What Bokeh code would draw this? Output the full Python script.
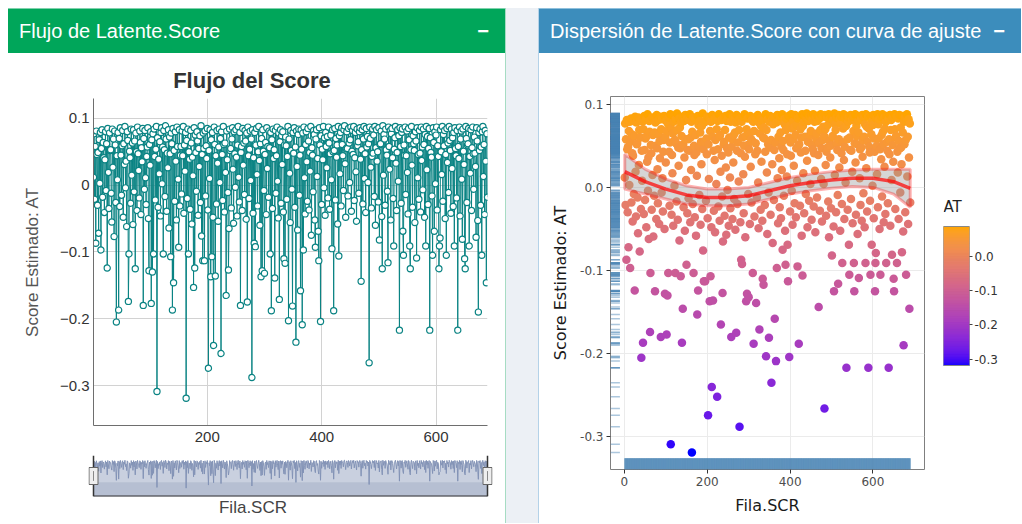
import numpy as np
from bokeh.plotting import figure
from bokeh.layouts import row, column
from bokeh.models import (Div, Range1d, FixedTicker, NumeralTickFormatter,
                          LinearColorMapper, ColumnDataSource)
from bokeh.core.properties import value
from bokeh.embed import file_html
from bokeh.resources import INLINE

# ------------------------------------------------------------------ data
latente_score = [
    0.012, 0.077, -0.021, 0.058, -0.087, 0.081, 0.046, -0.030, 0.049, -0.072, 0.068, 0.003, 0.079, -0.097, 0.055,
    0.083, -0.018, 0.064, 0.041, -0.041, 0.038, 0.080, -0.008, 0.062, -0.124, 0.085, 0.019, -0.035, 0.078, 0.052,
    0.053, -0.012, -0.055, 0.084, 0.027, 0.069, -0.077, 0.081, 0.060, -0.026, -0.205, 0.044, 0.008, 0.079, -0.187,
    0.070, -0.032, 0.086, 0.045, -0.015, 0.059, 0.082, -0.048, 0.062, 0.031, 0.088, -0.004, 0.036, -0.062, 0.080,
    0.067, -0.174, -0.103, 0.051, 0.041, -0.027, 0.084, 0.015, 0.063, -0.059, 0.083, -0.010, 0.066, -0.125, 0.078,
    0.050, -0.038, 0.087, 0.047, 0.022, -0.019, 0.081, 0.064, -0.044, 0.056, 0.035, 0.085, -0.180, 0.070, -0.006,
    0.082, 0.011, -0.029, 0.043, 0.057, 0.086, -0.050, -0.128, 0.061, 0.030, 0.080, -0.177, 0.068, -0.130, 0.077,
    -0.103, 0.084, 0.043, -0.022, 0.054, 0.088, -0.309, 0.071, -0.033, 0.039, 0.017, 0.065, -0.046, 0.079, 0.086,
    0.002, 0.057, -0.103, 0.082, 0.053, -0.017, 0.089, 0.069, -0.039, 0.048, 0.026, 0.083, -0.064, 0.072, 0.047,
    -0.107, 0.078, 0.062, -0.187, 0.085, -0.146, 0.052, -0.024, 0.080, 0.036, -0.052, 0.087, 0.058, 0.009, -0.093,
    0.083, -0.031, 0.045, 0.058, -0.013, 0.081, 0.044, 0.088, -0.042, 0.060, 0.021, 0.079, -0.319, 0.067, -0.020,
    0.084, -0.103, 0.050, 0.039, -0.036, 0.082, 0.063, -0.058, 0.042, 0.014, -0.153, 0.086, -0.124, 0.075, 0.049,
    -0.009, 0.080, 0.066, -0.045, 0.055, 0.028, 0.074, -0.026, 0.089, -0.076, 0.046, -0.113, 0.078, 0.055, -0.113,
    0.081, -0.016, 0.059, 0.040, 0.085, -0.037, -0.274, 0.052, 0.010, 0.083, -0.137, 0.068, -0.107, 0.079, -0.048,
    -0.240, 0.087, 0.061, -0.136, 0.044, -0.028, 0.082, 0.033, -0.054, 0.057, 0.084, 0.004, 0.070, -0.252, 0.080,
    0.046, -0.023, 0.088, 0.061, -0.040, 0.063, 0.019, -0.165, 0.081, 0.038, -0.011, -0.127, -0.065, 0.084, 0.052,
    0.055, -0.034, 0.069, 0.086, 0.024, -0.057, 0.080, 0.047, -0.003, 0.083, 0.042, -0.046, 0.060, 0.088, 0.012,
    -0.025, 0.079, -0.180, 0.049, 0.058, -0.038, 0.085, 0.030, 0.063, -0.014, 0.082, 0.066, -0.051, 0.078, -0.175,
    0.087, 0.044, -0.020, 0.054, 0.081, 0.007, 0.069, -0.288, 0.083, -0.042, 0.041, -0.087, 0.079, -0.092, 0.060,
    0.085, 0.016, -0.031, 0.050, 0.088, 0.037, -0.060, 0.062, -0.137, 0.070, -0.128, 0.083, 0.051, -0.008, -0.132,
    0.046, 0.064, -0.044, 0.086, 0.025, 0.058, -0.018, 0.081, 0.056, -0.103, 0.079, -0.188, 0.068, -0.035, 0.084,
    0.040, 0.053, -0.139, 0.082, -0.012, 0.044, 0.087, 0.006, -0.049, 0.078, -0.171, 0.065, 0.083, -0.027, 0.074,
    0.031, 0.080, -0.040, -0.110, 0.060, -0.117, 0.072, 0.059, -0.021, 0.043, 0.088, -0.203, 0.069, 0.018, -0.056,
    0.082, 0.052, -0.006, -0.181, 0.079, 0.048, 0.086, -0.033, 0.057, -0.235, 0.081, 0.028, -0.067, 0.076, 0.084,
    -0.015, 0.045, -0.158, 0.083, 0.054, -0.209, 0.078, -0.097, 0.087, 0.011, -0.043, 0.061, 0.080, 0.035, -0.024,
    0.085, 0.066, -0.037, 0.049, 0.021, 0.088, -0.075, 0.056, 0.045, -0.010, 0.082, 0.076, -0.052, -0.093, 0.069,
    0.083, 0.013, 0.040, -0.069, -0.113, 0.086, 0.060, -0.204, 0.074, -0.029, 0.054, 0.038, 0.088, -0.004, 0.071,
    -0.045, 0.079, 0.058, 0.026, 0.073, -0.019, 0.087, 0.063, -0.036, 0.047, 0.075, 0.008, -0.095, 0.083, 0.050,
    -0.188, 0.052, 0.085, -0.022, 0.070, 0.042, 0.060, -0.058, 0.088, -0.106, 0.074, 0.017, 0.079, -0.031, 0.086,
    0.061, 0.044, -0.008, 0.083, 0.089, 0.032, -0.048, 0.055, 0.080, 0.055, -0.016, 0.085, 0.063, 0.004, 0.068,
    0.087, -0.039, 0.051, 0.082, 0.046, 0.088, -0.023, 0.041, 0.079, 0.020, -0.054, 0.084, 0.059, 0.065, -0.012,
    0.080, 0.086, 0.039, -0.144, 0.053, 0.083, -0.028, 0.069, 0.088, 0.010, 0.047, -0.041, 0.085, 0.057, 0.073,
    0.004, 0.062, -0.266, 0.087, 0.070, 0.027, -0.034, 0.043, 0.084, 0.048, 0.075, -0.017, 0.088, -0.060, 0.056,
    0.083, 0.036, 0.050, -0.025, 0.086, -0.082, 0.061, 0.062, 0.081, -0.047, -0.125, 0.089, 0.015, 0.076, 0.069,
    -0.030, 0.084, 0.053, 0.045, -0.009, -0.116, 0.087, 0.058, 0.024, 0.082, -0.052, 0.077, 0.085, 0.041, -0.020,
    -0.091, 0.054, 0.071, 0.088, 0.033, -0.038, 0.049, 0.083, 0.006, 0.074, -0.217, 0.086, 0.058, -0.027, 0.079,
    0.084, -0.069, -0.105, 0.060, 0.045, 0.087, -0.014, 0.044, 0.081, 0.019, -0.043, 0.085, 0.068, -0.091, -0.125,
    0.053, 0.088, 0.030, -0.033, 0.074, 0.062, 0.052, -0.056, 0.080, 0.066, -0.109, 0.086, 0.011, 0.046, -0.021,
    0.082, 0.048, -0.040, 0.087, 0.037, 0.057, -0.007, 0.084, 0.061, -0.048, 0.076, -0.091, 0.088, 0.023, 0.073,
    -0.029, 0.055, 0.085, -0.217, 0.071, 0.049, 0.042, -0.016, -0.105, 0.086, 0.064, -0.069, 0.080, 0.002, 0.075,
    0.087, -0.037, 0.059, 0.043, -0.125, -0.091, -0.079, 0.083, 0.050, 0.016, 0.088, -0.024, 0.076, 0.059, 0.082,
    -0.050, 0.046, -0.105, 0.085, 0.034, 0.063, -0.011, 0.088, 0.067, 0.052, -0.042, 0.084, 0.025, 0.071, -0.032,
    0.079, -0.091, 0.086, 0.055, 0.044, -0.019, 0.082, -0.217, 0.058, 0.040, 0.087, -0.046, 0.069, 0.081, 0.009,
    -0.081, 0.084, 0.051, 0.031, -0.110, -0.125, 0.088, 0.070, -0.026, 0.060, 0.062, 0.085, -0.091, 0.043, 0.018,
    0.083, -0.038, 0.056, 0.087, 0.047, -0.006, 0.072, 0.048, 0.028, -0.078, 0.086, 0.066, -0.053, -0.190, 0.079,
    0.052, 0.084, -0.030, 0.057, -0.105, 0.080, 0.088, 0.013, 0.061, -0.044, 0.082, 0.036, -0.146, 0.077, -0.018,
]
fila_scr = list(range(1, len(latente_score) + 1))

# smooth (loess) curve
ajuste_x = [1, 50, 100, 150, 200, 250, 300, 350, 400, 450, 500, 550, 600, 650, 690]
ajuste_y = [0.019, 0.007, -0.002, -0.009, -0.012, -0.012, -0.010, -0.004, 0.002, 0.006, 0.009, 0.011, 0.011, 0.007, -0.001]
ajuste_se = [0.021, 0.015, 0.012, 0.011, 0.010, 0.010, 0.010, 0.010, 0.010, 0.010, 0.010, 0.010, 0.011, 0.015, 0.023]

flujo_x_ticks = [200, 400, 600]
flujo_y_ticks = [-0.3, -0.2, -0.1, 0, 0.1]
disp_x_ticks = [0, 200, 400, 600]
disp_y_ticks = [-0.3, -0.2, -0.1, 0.0, 0.1]
barra_ticks = [-0.3, -0.2, -0.1, 0.0]

titulo_izq = "Flujo de Latente.Score"
titulo_der = "Dispersión de Latente.Score con curva de ajuste"
titulo_flujo = "Flujo del Score"
eje_x = "Fila.SCR"
eje_y = "Score Estimado: AT"
leyenda = "AT"

# ------------------------------------------------------------------ helpers
ARIAL = "'Liberation Sans', Arial, Helvetica, sans-serif"
PLOTLY_FONT = "DejaVu Sans"


def _hex_to_lab(h):
    rgb = [int(h[i:i + 2], 16) / 255 for i in (1, 3, 5)]
    lin = [c / 12.92 if c <= 0.04045 else ((c + 0.055) / 1.055) ** 2.4 for c in rgb]
    r, g, b = lin
    X = 0.4124564 * r + 0.3575761 * g + 0.1804375 * b
    Y = 0.2126729 * r + 0.7151522 * g + 0.0721750 * b
    Z = 0.0193339 * r + 0.1191920 * g + 0.9503041 * b

    def f(t):
        return t ** (1 / 3) if t > (6 / 29) ** 3 else t / (3 * (6 / 29) ** 2) + 4 / 29
    fx, fy, fz = f(X / 0.95047), f(Y), f(Z / 1.08883)
    return 116 * fy - 16, 500 * (fx - fy), 200 * (fy - fz)


def _lab_to_hex(L, a, b):
    fy = (L + 16) / 116
    fx = fy + a / 500
    fz = fy - b / 200

    def finv(t):
        return t ** 3 if t > 6 / 29 else 3 * (6 / 29) ** 2 * (t - 4 / 29)
    X, Y, Z = 0.95047 * finv(fx), finv(fy), 1.08883 * finv(fz)
    r = 3.2404542 * X - 1.5371385 * Y - 0.4985314 * Z
    g = -0.9692660 * X + 1.8760108 * Y + 0.0415560 * Z
    bb = 0.0556434 * X - 0.2040259 * Y + 1.0572252 * Z

    def gam(c):
        c = min(max(c, 0.0), 1.0)
        return 12.92 * c if c <= 0.0031308 else 1.055 * c ** (1 / 2.4) - 0.055
    return "#%02x%02x%02x" % tuple(int(round(gam(c) * 255)) for c in (r, g, bb))


lo_lab = _hex_to_lab("#0000ff")
hi_lab = _hex_to_lab("#ffa500")
palette = [_lab_to_hex(*[lo_lab[k] + (hi_lab[k] - lo_lab[k]) * t for k in range(3)])
           for t in np.linspace(0, 1, 256)]

smin, smax = min(latente_score), max(latente_score)
span = smax - smin
mapper = LinearColorMapper(palette=palette, low=smin, high=smax)


def no_align(fig):
    if hasattr(fig, "frame_align"):
        try:
            fig.frame_align = False
        except Exception:
            pass


def header_div(text, bg, border, width):
    html = (f'<div style="box-sizing:border-box;width:{width}px;height:45px;background:{bg};'
            f'border-top:1px solid {border};color:#ffffff;font-family:{ARIAL};font-size:20px;'
            f'line-height:24px;padding:10px 16px 0 11px;">'
            f'<span>{text}</span><span style="float:right;font-weight:bold;">&minus;</span></div>')
    return Div(text=html, width=width, height=45, margin=0)


# ------------------------------------------------------------------ left: dygraph-like
LW = 497
src = ColumnDataSource(dict(x=fila_scr, y=latente_score))

title_div = Div(text=(f'<div style="box-sizing:border-box;width:{LW}px;height:45px;text-align:center;'
                      f'padding:15px 9px 0 0;font-family:{ARIAL};font-size:22px;font-weight:bold;'
                      f'color:#333333;line-height:26px;">{titulo_flujo}</div>'),
                width=LW, height=45, margin=0)

p1 = figure(width=LW, height=350, output_backend="svg", toolbar_location=None,
            x_range=Range1d(fila_scr[0], fila_scr[-1]),
            y_range=Range1d(smin - 0.1 * span, smax + 0.1 * span),
            min_border_left=85, min_border_right=18, min_border_top=0, min_border_bottom=23)
no_align(p1)
p1.outline_line_color = None
for g in (p1.xgrid, p1.ygrid):
    g.grid_line_color = "#d2d2d2"
    g.grid_line_width = 1
p1.xaxis.ticker = FixedTicker(ticks=flujo_x_ticks)
p1.yaxis.ticker = FixedTicker(ticks=flujo_y_ticks)
p1.yaxis.major_label_overrides = {0: "0"}
for ax in (p1.xaxis, p1.yaxis):
    ax.axis_line_color = "#6e6e6e"
    ax.axis_line_width = 1
    ax.major_tick_out = 0
    ax.major_tick_in = 0
    ax.minor_tick_line_color = None
    ax.major_tick_line_color = None
    ax.major_label_text_font = ARIAL
    ax.major_label_text_font_size = "15px"
    ax.major_label_text_color = "#333333"
p1.xaxis.major_label_standoff = 6
p1.yaxis.major_label_standoff = 4
p1.yaxis.axis_label = eje_y
p1.yaxis.axis_label_text_font = ARIAL
p1.yaxis.axis_label_text_font_size = "17px"
p1.yaxis.axis_label_text_font_style = "normal"
p1.yaxis.axis_label_text_color = "#555555"
p1.yaxis.axis_label_standoff = 15
p1.line("x", "y", source=src, line_color="#0a8383", line_width=1.0)
p1.scatter("x", "y", source=src, size=6.2, line_color="#0a8383", line_width=1.2, fill_color="white")

# range selector
px_per_unit = (LW - 85 - 18) / (fila_scr[-1] - fila_scr[0])
ext = 5 / px_per_unit
r_lo, r_hi = smin - 0.3 * span, smax + 0.17 * span
p3 = figure(width=LW, height=50, output_backend="svg", toolbar_location=None,
            x_range=Range1d(fila_scr[0] - ext, fila_scr[-1] + ext),
            y_range=Range1d(r_lo, r_hi),
            min_border_left=80, min_border_right=13, min_border_top=7, min_border_bottom=2)
no_align(p3)
p3.axis.visible = False
p3.grid.visible = False
p3.outline_line_color = None
p3.varea(x="x", y1=r_lo, y2="y", source=src, fill_color="#c9d0df")
p3.varea(x="x", y1=r_lo, y2=r_lo + 0.35 * (r_hi - r_lo), source=src, fill_color="#aab4ca", fill_alpha=0.6)
p3.line("x", "y", source=src, line_color="#8393b6", line_width=1)
p3.segment(x0=fila_scr[0], x1=fila_scr[-1], y0=r_lo, y1=r_lo, line_color="#333333", line_width=2)
p3.segment(x0=[fila_scr[0], fila_scr[-1]], x1=[fila_scr[0], fila_scr[-1]],
           y0=[r_lo, r_lo], y1=[r_hi, r_hi], line_color="#333333", line_width=1.5)
p3.rect(x=[fila_scr[0], fila_scr[-1]], y=[(r_lo + r_hi) / 2] * 2, width=9, height=17,
        width_units="screen", height_units="screen",
        fill_color="#eeeeee", line_color="#666666", line_width=1)
p3.segment(x0=[fila_scr[0], fila_scr[-1]], x1=[fila_scr[0], fila_scr[-1]],
           y0=[(r_lo + r_hi) / 2 - 0.12 * (r_hi - r_lo)] * 2,
           y1=[(r_lo + r_hi) / 2 + 0.12 * (r_hi - r_lo)] * 2,
           line_color="#888888", line_width=1)

xlab_div = Div(text=(f'<div style="box-sizing:border-box;width:{LW}px;height:25px;text-align:center;'
                     f'padding:0 7px 0 0;font-family:{ARIAL};font-size:17px;color:#444444;'
                     f'line-height:20px;">{eje_x}</div>'), width=LW, height=25, margin=0)

left_col = column(header_div(titulo_izq, "#00a65a", "#7fd1ac", LW), title_div, p1, p3, xlab_div,
                  spacing=0)

# ------------------------------------------------------------------ gap
gap = Div(text=('<div style="box-sizing:border-box;width:34px;height:515px;background:#ecf0f5;'
                'border-left:1px solid #a6dcc3;border-right:1px solid #b4d2e8;"></div>'),
          width=34, height=515, margin=0)

# ------------------------------------------------------------------ right: ggplotly-like
RW = 482
FIG_H = 470
B_TOP, B_BOT = 43, 54
xspan = fila_scr[-1] - fila_scr[0]
x0, x1 = fila_scr[0] - 0.05 * xspan, fila_scr[-1] + 0.05 * xspan
y0, y1 = smin - 0.05 * span, smax + 0.05 * span

p2 = figure(width=396, height=FIG_H, output_backend="svg", toolbar_location=None,
            x_range=Range1d(x0, x1), y_range=Range1d(y0, y1),
            min_border_left=71, min_border_right=11, min_border_top=B_TOP, min_border_bottom=B_BOT)
no_align(p2)
p2.outline_line_color = "#7f7f7f"
p2.outline_line_width = 1
for g in (p2.xgrid, p2.ygrid):
    g.grid_line_color = "#ebebeb"
    g.grid_line_width = 1
p2.xaxis.ticker = FixedTicker(ticks=disp_x_ticks)
p2.yaxis.ticker = FixedTicker(ticks=disp_y_ticks)
p2.yaxis.formatter = NumeralTickFormatter(format="0.0")
for ax in (p2.xaxis, p2.yaxis):
    ax.axis_line_color = None
    ax.major_tick_out = 4
    ax.major_tick_in = 0
    ax.major_tick_line_color = "#333333"
    ax.minor_tick_line_color = None
    ax.major_label_text_font = PLOTLY_FONT
    ax.major_label_text_font_size = "12px"
    ax.major_label_text_color = "#4d4d4d"
    ax.major_label_standoff = 3
    ax.axis_label_text_font = PLOTLY_FONT
    ax.axis_label_text_font_size = "16px"
    ax.axis_label_text_font_style = "normal"
    ax.axis_label_text_color = "#1a1a1a"
    ax.axis_label_standoff = 7
p2.xaxis.axis_label = eje_x
p2.yaxis.axis_label = eje_y

# rugs
p2.segment(x0=x0, x1=x0 + 0.03 * (x1 - x0), y0="y", y1="y", source=src,
           line_color="#4682b4", line_alpha=0.45, line_width=1.5)
p2.segment(x0="x", x1="x", y0=y0, y1=y0 + 0.03 * (y1 - y0), source=src,
           line_color="#4682b4", line_alpha=0.45, line_width=1.5)
# points
p2.scatter("x", "y", source=src, size=8.5, line_color=None,
           fill_color={"field": "y", "transform": mapper})
# smooth
upper = [a + s for a, s in zip(ajuste_y, ajuste_se)]
lower = [a - s for a, s in zip(ajuste_y, ajuste_se)]
p2.patch(ajuste_x + ajuste_x[::-1], upper + lower[::-1], fill_color="#999999", fill_alpha=0.4,
         line_color="red", line_alpha=0.3, line_width=3)
p2.line(ajuste_x, ajuste_y, line_color="red", line_alpha=0.7, line_width=3.5)

# colour bar: own figure with the same top/bottom borders as the scatter
BAR_PX = 139
BAR_TOP_GAP, BAR_BOT_GAP = 130, 104
scale_px = BAR_PX / span
pcb = figure(width=RW - 396, height=FIG_H, output_backend="svg", toolbar_location=None,
             x_range=Range1d(0, 1),
             y_range=Range1d(smin - BAR_BOT_GAP / scale_px, smax + BAR_TOP_GAP / scale_px),
             x_axis_location=None, y_axis_location="right",
             min_border_left=8, min_border_right=52, min_border_top=B_TOP, min_border_bottom=B_BOT)
no_align(pcb)
edges = np.linspace(smin, smax, len(palette) + 1)
pcb.quad(left=0, right=1, bottom=edges[:-1], top=edges[1:], fill_color=palette,
         line_color=palette, line_width=0.6)
pcb.quad(left=0, right=1, bottom=smin, top=smax, fill_color=None, line_color="#888888", line_width=1)
pcb.text(x=[0], y=[smax + 11 / scale_px], text=[leyenda], text_font=value(PLOTLY_FONT),
         text_font_size="15px", text_baseline="bottom", text_align="left", text_color="#222222")
pcb.grid.visible = False
pcb.outline_line_color = None
pcb.yaxis.ticker = FixedTicker(ticks=barra_ticks)
pcb.yaxis.formatter = NumeralTickFormatter(format="0.0")
pcb.yaxis.axis_line_color = None
pcb.yaxis.major_tick_out = 3
pcb.yaxis.major_tick_in = 0
pcb.yaxis.major_tick_line_color = "#444444"
pcb.yaxis.minor_tick_line_color = None
pcb.yaxis.major_label_standoff = 2
pcb.yaxis.major_label_text_font = PLOTLY_FONT
pcb.yaxis.major_label_text_font_size = "12px"
pcb.yaxis.major_label_text_color = "#333333"

right_col = column(header_div(titulo_der, "#3c8dbc", "#8fc0dc", RW), row(p2, pcb, spacing=0),
                   spacing=0)

layout = row(left_col, gap, right_col, spacing=0)
layout.margin = (8, 0, 0, 8)

open("out.html", "w").write(file_html(layout, INLINE))
